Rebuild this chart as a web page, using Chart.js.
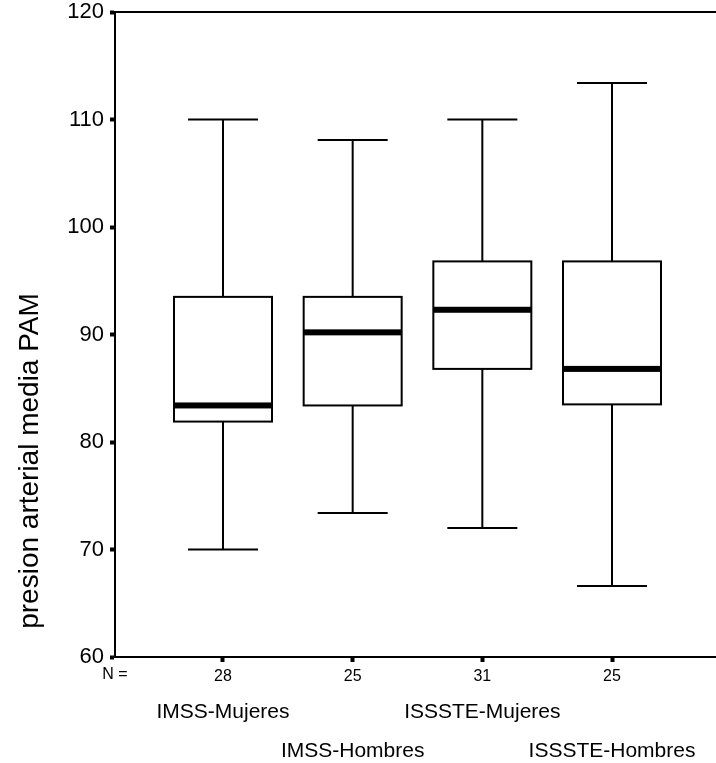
<!DOCTYPE html>
<html>
<head>
<meta charset="utf-8">
<script src="https://cdn.jsdelivr.net/npm/chart.js@4/dist/chart.umd.min.js"></script>
<style>
  html, body { margin: 0; padding: 0; background: #fff; }
  #wrap { width: 716px; height: 763px; }
</style>
</head>
<body>
<div id="wrap"><canvas id="c" width="716" height="763"></canvas></div>
<script>
const categories = ['IMSS-Mujeres', 'IMSS-Hombres', 'ISSSTE-Mujeres', 'ISSSTE-Hombres'];
const nCounts = [28, 25, 31, 25];
const whiskerLow = [70, 73.4, 72, 66.6];
const q1 = [81.9, 83.4, 86.8, 83.5];
const median = [83.4, 90.2, 92.3, 86.8];
const q3 = [93.5, 93.5, 96.8, 96.8];
const whiskerHigh = [110, 108.1, 110, 113.4];
const yTicks = [60, 70, 80, 90, 100, 110, 120];
const yTitle = 'presion arterial media PAM';

const positions = categories.map((_, i) => i + 1);
const FONT = "'Liberation Sans', Arial, Helvetica, sans-serif";

const boxPlugin = {
  id: 'boxPlugin',
  afterDatasetsDraw(chart) {
    const ctx = chart.ctx;
    const xs = chart.scales.x, ys = chart.scales.y;
    const area = chart.chartArea;
    ctx.save();
    ctx.strokeStyle = '#000';
    ctx.fillStyle = '#000';
    // top frame line
    ctx.lineWidth = 2;
    ctx.beginPath();
    ctx.moveTo(area.left, ys.getPixelForValue(120));
    ctx.lineTo(area.right, ys.getPixelForValue(120));
    ctx.stroke();

    const boxW = 98, capW = 70;
    categories.forEach((c, i) => {
      const cx = xs.getPixelForValue(positions[i]);
      const yLo = ys.getPixelForValue(whiskerLow[i]);
      const yQ1 = ys.getPixelForValue(q1[i]);
      const yMed = ys.getPixelForValue(median[i]);
      const yQ3 = ys.getPixelForValue(q3[i]);
      const yHi = ys.getPixelForValue(whiskerHigh[i]);
      ctx.lineWidth = 2;
      ctx.beginPath();
      ctx.moveTo(cx, yHi); ctx.lineTo(cx, yQ3);
      ctx.moveTo(cx, yQ1); ctx.lineTo(cx, yLo);
      ctx.moveTo(cx - capW / 2, yHi); ctx.lineTo(cx + capW / 2, yHi);
      ctx.moveTo(cx - capW / 2, yLo); ctx.lineTo(cx + capW / 2, yLo);
      ctx.stroke();
      ctx.fillStyle = '#fff';
      ctx.fillRect(cx - boxW / 2, yQ3, boxW, yQ1 - yQ3);
      ctx.strokeRect(cx - boxW / 2, yQ3, boxW, yQ1 - yQ3);
      ctx.fillStyle = '#000';
      ctx.fillRect(cx - boxW / 2, yMed - 3, boxW, 6);
    });

    ctx.font = '16px ' + FONT;
    ctx.textAlign = 'center';
    ctx.textBaseline = 'middle';
    ctx.fillText('N =', 115, 675);

    ctx.font = '21px ' + FONT;
    ctx.textBaseline = 'alphabetic';
    categories.forEach((c, i) => {
      const cx = xs.getPixelForValue(positions[i]);
      ctx.fillText(c, cx, i % 2 === 0 ? 718 : 757);
    });

    ctx.save();
    ctx.translate(30, 461);
    ctx.rotate(-Math.PI / 2);
    ctx.font = '28px ' + FONT;
    ctx.textAlign = 'center';
    ctx.textBaseline = 'middle';
    ctx.fillText(yTitle, 0, 0);
    ctx.restore();

    ctx.restore();
  }
};

new Chart(document.getElementById('c'), {
  type: 'scatter',
  data: {
    datasets: [{
      label: 'median',
      data: positions.map((p, i) => ({ x: p, y: median[i] })),
      pointRadius: 0,
      showLine: false
    }]
  },
  options: {
    responsive: false,
    animation: false,
    devicePixelRatio: 1,
    layout: { padding: { top: 0, right: 0, left: 0, bottom: 0 } },
    plugins: { legend: { display: false }, tooltip: { enabled: false } },
    scales: {
      x: {
        type: 'linear',
        min: 1 - 108 / 129.67,
        max: 4 + 104 / 129.67,
        afterBuildTicks: (s) => { s.ticks = positions.map(v => ({ value: v })); },
        afterFit: (s) => { s.height = 106; },
        ticks: {
          autoSkip: false,
          maxRotation: 0,
          padding: 5,
          color: '#000',
          font: { size: 16, family: FONT },
          callback: (v) => { const i = positions.indexOf(v); return i >= 0 ? String(nCounts[i]) : ''; }
        },
        grid: { drawOnChartArea: false, drawTicks: true, tickLength: 5, tickWidth: 4, tickColor: '#000' },
        border: { display: true, color: '#000', width: 2 }
      },
      y: {
        min: 60,
        max: 120,
        afterBuildTicks: (s) => { s.ticks = yTicks.map(v => ({ value: v })); },
        afterFit: (s) => { s.width = 115; s.paddingTop = 12; },
        ticks: {
          padding: 6,
          color: '#000',
          font: { size: 22, family: FONT }
        },
        grid: { drawOnChartArea: false, drawTicks: true, tickLength: 5, tickWidth: 4, tickColor: '#000' },
        border: { display: true, color: '#000', width: 2 }
      }
    }
  },
  plugins: [boxPlugin]
});
</script>
</body>
</html>
